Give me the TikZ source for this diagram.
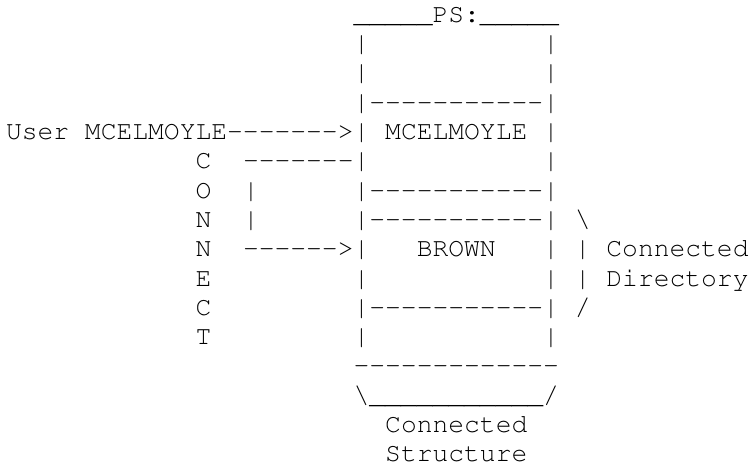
\documentclass[tikz,border=0pt]{standalone}
\usepackage[T1]{fontenc}
\tikzset{txt/.style={anchor=base west, inner sep=0pt, outer sep=0pt, font=\fontfamily{pcr}\fontsize{26.33}{29.3}\selectfont, text=black}}
\newcommand\seg[4]{\node[txt] (#1) at ({6pt+15.8pt*#3},{-22.3pt-29.3pt*#2}) {#4};}
\newcommand\dd{-{}}
\begin{document}
\begin{tikzpicture}
\useasboundingbox[fill=white] (0,0) rectangle (750pt,-467pt);
% line 0
\seg{top}{0}{22}{\_\_\_\_\_PS:\_\_\_\_\_}
% lines 1-2
\seg{l1a}{1}{22}{|}\seg{l1b}{1}{34}{|}
\seg{l2a}{2}{22}{|}\seg{l2b}{2}{34}{|}
% line 3
\seg{l3a}{3}{22}{|\dd\dd\dd\dd\dd\dd\dd\dd\dd\dd\dd|}
% line 4
\seg{user}{4}{0}{User MCELMOYLE\dd\dd\dd\dd\dd\dd\dd>|}
\seg{mcel}{4}{24}{MCELMOYLE}
\seg{l4b}{4}{34}{|}
% line 5
\seg{c1}{5}{12}{C}
\seg{l5a}{5}{15}{\dd\dd\dd\dd\dd\dd\dd|}
\seg{l5b}{5}{34}{|}
% line 6
\seg{o1}{6}{12}{O}
\seg{l6a}{6}{15}{|}
\seg{l6b}{6}{22}{|\dd\dd\dd\dd\dd\dd\dd\dd\dd\dd\dd|}
% line 7
\seg{n1}{7}{12}{N}
\seg{l7a}{7}{15}{|}
\seg{l7b}{7}{22}{|\dd\dd\dd\dd\dd\dd\dd\dd\dd\dd\dd|}
\seg{l7c}{7}{36}{\textbackslash}
% line 8
\seg{n2}{8}{12}{N}
\seg{l8a}{8}{15}{\dd\dd\dd\dd\dd\dd>|}
\seg{brown}{8}{26}{BROWN}
\seg{l8b}{8}{34}{|}
\seg{l8c}{8}{36}{|}
\seg{conn1}{8}{38}{Connected}
% line 9
\seg{e1}{9}{12}{E}
\seg{l9a}{9}{22}{|}
\seg{l9b}{9}{34}{|}
\seg{l9c}{9}{36}{|}
\seg{dir}{9}{38}{Directory}
% line 10
\seg{c2}{10}{12}{C}
\seg{l10a}{10}{22}{|\dd\dd\dd\dd\dd\dd\dd\dd\dd\dd\dd|}
\seg{l10b}{10}{36}{/}
% line 11
\seg{t1}{11}{12}{T}
\seg{l11a}{11}{22}{|}
\seg{l11b}{11}{34}{|}
% line 12
\seg{l12}{12}{22}{\dd\dd\dd\dd\dd\dd\dd\dd\dd\dd\dd\dd\dd}
% line 13
\seg{l13}{13}{22}{\textbackslash\_\_\_\_\_\_\_\_\_\_\_/}
% lines 14-15
\seg{conn2}{14}{24}{Connected}
\seg{struct}{15}{24}{Structure}
\end{tikzpicture}
\end{document}
